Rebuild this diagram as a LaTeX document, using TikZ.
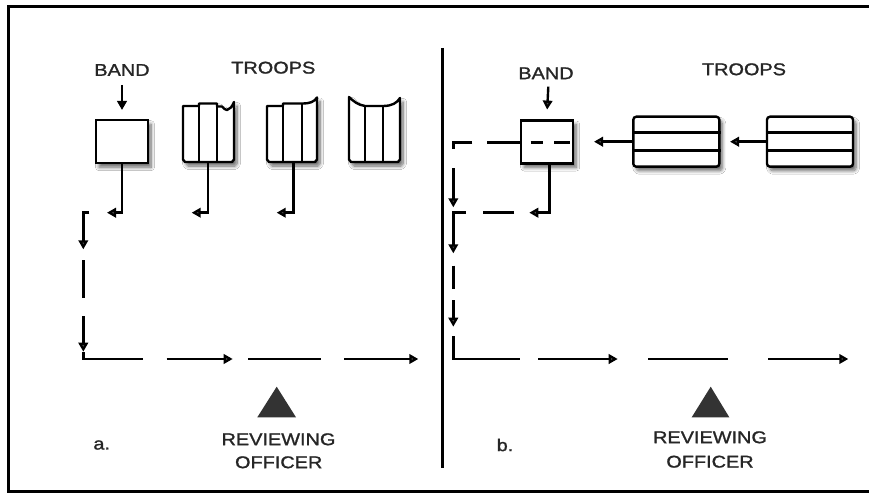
\documentclass[tikz,border=0pt]{standalone}
\usepackage{fontspec}
\setmainfont{Liberation Sans}
\newfontfamily\lab[FakeStretch=1.17,FakeBold=1.3]{Liberation Sans}
\usetikzlibrary{arrows.meta,shadows.blur}
\begin{document}
\begin{tikzpicture}[x=1pt,y=-1pt,line width=2.4pt,
  arr/.style={-{Triangle[length=9pt,width=9.5pt]}},
  lbl/.style={font=\lab\fontsize{17}{18}\selectfont,text=black!85,inner sep=0pt},
  shd/.style={blur shadow={shadow xshift=3pt,shadow yshift=-4pt,shadow blur steps=8,shadow blur radius=3.5pt,shadow opacity=60}},
  bandbox/.style={draw,fill=white,minimum width=52pt,minimum height=43pt,inner sep=0pt,shd},
  troopbox/.style={draw,fill=white,rounded corners=3pt,minimum width=86pt,minimum height=50pt,inner sep=0pt,shd},
  troopshape/.style={draw,fill=white,shd,line join=round},
  officer/.style={fill=black!80,draw=none}]
\useasboundingbox (0,0) rectangle (869,494);
\fill[white] (0,0) rectangle (869,494);
% frame and divider
\draw[line width=3pt] (875,7) -- (8,7) -- (8,491) -- (875,491);
\draw[line width=3.2pt] (442.6,48) -- (442.6,468);

% ---------------- panel a ----------------
\node[lbl] (banda) at (122,70) {BAND};
\node[lbl] (troopsa) at (273.3,67.7) {TROOPS};
\node[bandbox] (boxa) at (122,141.7) {};
\draw[arr] (122,85) -- ([yshift=9pt]boxa.north);
% troop 1
\draw[troopshape] (183,106) -- (199,106) -- (199,103.5) -- (217,103.5) -- (217,106.5) -- (222,106.5)
  .. controls (224,108.5) and (225,110) .. (227,110) .. controls (230,109) and (232,107) .. (234,102)
  -- (234,159.5) -- (232,162) -- (185,162) -- (183,159.5) -- cycle;
\draw (199,103.5) -- (199,162) (217,103.5) -- (217,162);
% troop 2
\draw[troopshape] (267,106) -- (283,106) -- (283,103.5) -- (302,103.5)
  .. controls (310,103.5) and (314,102) .. (317,97.5)
  -- (317,159.5) -- (315,162) -- (269,162) -- (267,159.5) -- cycle;
\draw (283,103.5) -- (283,162) (302,103.5) -- (302,162);
% troop 3
\draw[troopshape] (349,97) .. controls (353,101) and (358,105) .. (365,106) -- (383,106)
  .. controls (392,106) and (397,103) .. (400,98)
  -- (400,159.5) -- (398,162) -- (351,162) -- (349,159.5) -- cycle;
\draw (365,106) -- (365,162) (383,106) -- (383,162);
% wheel connectors
\draw[arr] (boxa.south) |- (107,212.7);
\draw[arr] (208,162) |- (191.7,212.7);
\draw[arr] (293.3,162) |- (276.7,212.7);
% dashed route a
\draw[arr] (89.3,212.7) -- (83.3,212.7) -- (83.3,249.3);
\draw (83.3,260) -- (83.3,297.7);
\draw[arr] (83.3,316) -- (83.3,351.7);
\draw (83.3,352) -- (83.3,359) -- (142.7,359);
\draw[arr] (166.7,359) -- (232.7,359);
\draw (248.3,359) -- (320.7,359);
\draw[arr] (344.3,359) -- (418.3,359);
% reviewing officer a
\fill[officer] (276.7,386.7) -- (296,417.3) -- (257.3,417.3) -- cycle;
\node[lbl] (reva) at (278.5,439.3) {REVIEWING};
\node[lbl] (offa) at (278.7,462.3) {OFFICER};
\node[lbl] (la) at (101.7,445) {a.};

% ---------------- panel b ----------------
\node[lbl] (bandb) at (546,73.3) {BAND};
\node[lbl] (troopsb) at (744,69.3) {TROOPS};
\node[bandbox] (boxb) at (547.2,142) {};
\draw[arr] (548.3,86.7) -- ([yshift=9.7pt]boxb.north);
\node[troopbox] (tb1) at (676.3,141.7) {};
\draw ([yshift=9pt]tb1.west) -- ([yshift=9pt]tb1.east) ([yshift=-9pt]tb1.west) -- ([yshift=-9pt]tb1.east);
\node[troopbox] (tb2) at (810,141.7) {};
\draw ([yshift=9pt]tb2.west) -- ([yshift=9pt]tb2.east) ([yshift=-9pt]tb2.west) -- ([yshift=-9pt]tb2.east);
\draw[arr] (tb2.west) -- (730,141.7);
\draw[arr] (tb1.west) -- (594,141.7);
% dashed line through band
\draw (530.7,142.7) -- (543.3,142.7) (554,142.7) -- (570,142.7);
\draw (521,142.7) -- (486.7,142.7);
\draw (472.3,142.7) -- (453.3,142.7) -- (453.3,149.3);
\draw[arr] (453.3,168.3) -- (453.3,207.3);
\draw[arr] (549.3,163.3) |- (529.3,212.7);
\draw (514,212.7) -- (482.7,212.7);
\draw[arr] (466,212.7) -- (453.3,212.7) -- (453.3,253.3);
\draw (453.3,265.7) -- (453.3,289.3);
\draw[arr] (453.3,300) -- (453.3,326.7);
\draw (453.3,336) -- (453.3,359) -- (520,359);
\draw[arr] (538.3,359) -- (617.7,359);
\draw (648.3,359) -- (728.3,359);
\draw[arr] (768.3,359) -- (848.3,359);
% reviewing officer b
\fill[officer] (710.7,386.7) -- (729.3,417.3) -- (691.7,417.3) -- cycle;
\node[lbl] (revb) at (710,437.3) {REVIEWING};
\node[lbl] (offb) at (710,461.7) {OFFICER};
\node[lbl] (lb) at (505,445) {b.};
\end{tikzpicture}
\end{document}
